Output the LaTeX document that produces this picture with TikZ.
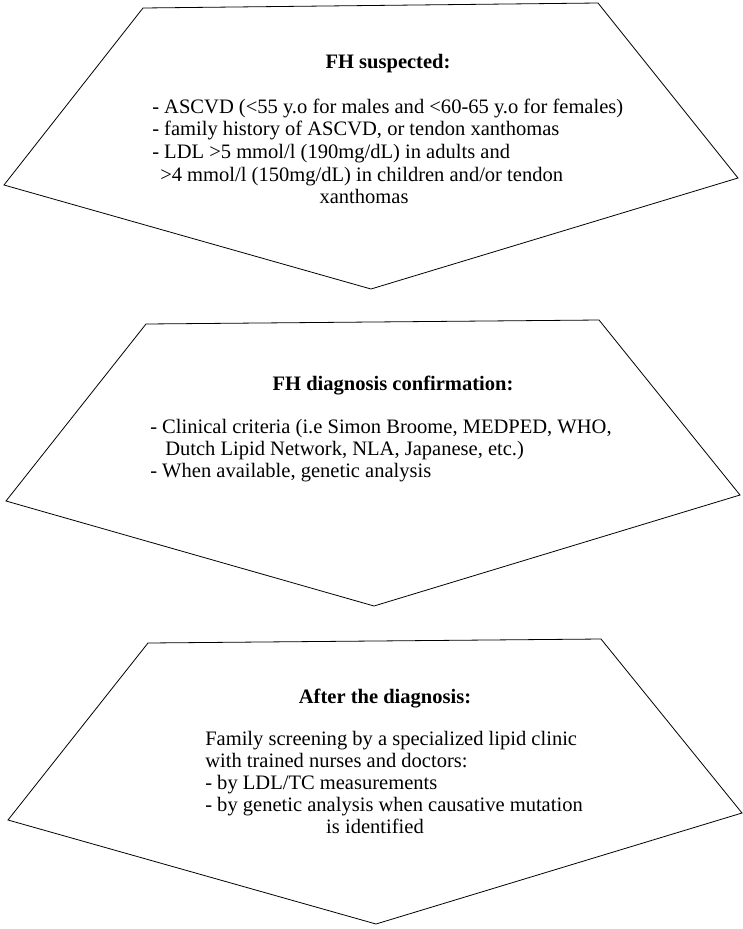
\documentclass[tikz,border=0pt]{standalone}
\usepackage{fontspec}
\setmainfont{Liberation Serif}
\usepackage{tikz}
\newcommand{\edgecolor}{black}
\newcommand{\thickness}{0.6pt}
\newcommand{\txtsize}{\fontsize{15.4}{17}\selectfont}

\begin{document}
\begin{tikzpicture}[x=0.75pt, y=-0.75pt, line join=miter]
\useasboundingbox (0,0) rectangle (743,929);
\tikzset{txt/.style={anchor=base west, inner sep=0pt, font=\txtsize}}
\tikzset{ttl/.style={anchor=base, inner sep=0pt, font=\txtsize\bfseries}}
%1
\coordinate (1a) at (143, 8);
\coordinate (1b) at (598, 3);
\coordinate (1c) at (738, 178);
\coordinate (1d) at (371, 289);
\coordinate (1e) at (4, 185);
\draw[\edgecolor] [line width = \thickness] (1a) -- (1b) -- (1c) -- (1d) -- (1e) -- cycle;
\node[ttl] (1t) at (388, 68) {FH suspected:};
\node[txt] (11) at (152, 113) {- ASCVD (<55 y.o for males and <60-65 y.o for females)};
\node[txt] (12) at (152, 135) {- family history of ASCVD, or tendon xanthomas};
\node[txt] (13) at (152, 158) {- LDL >5 mmol/l (190mg/dL) in adults and};
\node[txt] (14) at (160, 181) {>4 mmol/l (150mg/dL) in children and/or tendon};
\node[anchor=base, inner sep=0pt, font=\txtsize] (15) at (364, 203) {xanthomas};
%2
\coordinate (2a) at (146, 324);
\coordinate (2b) at (599, 320);
\coordinate (2c) at (740, 495);
\coordinate (2d) at (374, 606);
\coordinate (2e) at (6, 501);
\draw[\edgecolor] [line width = \thickness] (2a) -- (2b) -- (2c) -- (2d) -- (2e) -- cycle;
\node[ttl] (2t) at (393, 390) {FH diagnosis confirmation:};
\node[txt] (21) at (150, 433) {- Clinical criteria (i.e Simon Broome, MEDPED, WHO,};
\node[txt] (22) at (165, 455) {Dutch Lipid Network, NLA, Japanese, etc.)};
\node[txt] (23) at (150, 477) {- When available, genetic analysis};
%3
\coordinate (3a) at (148, 643);
\coordinate (3b) at (601, 639);
\coordinate (3c) at (742, 813);
\coordinate (3d) at (376, 924);
\coordinate (3e) at (8, 820);
\draw[\edgecolor] [line width = \thickness] (3a) -- (3b) -- (3c) -- (3d) -- (3e) -- cycle;
\node[ttl] (3t) at (385, 703) {After the diagnosis:};
\node[txt] (31) at (205, 745) {Family screening by a specialized lipid clinic};
\node[txt] (32) at (205, 767) {with trained nurses and doctors:};
\node[txt] (33) at (205, 789) {- by LDL/TC measurements};
\node[txt] (34) at (205, 811) {- by genetic analysis when causative mutation};
\node[anchor=base, inner sep=0pt, font=\txtsize] (35) at (375, 833) {is identified};
\end{tikzpicture}
\end{document}
